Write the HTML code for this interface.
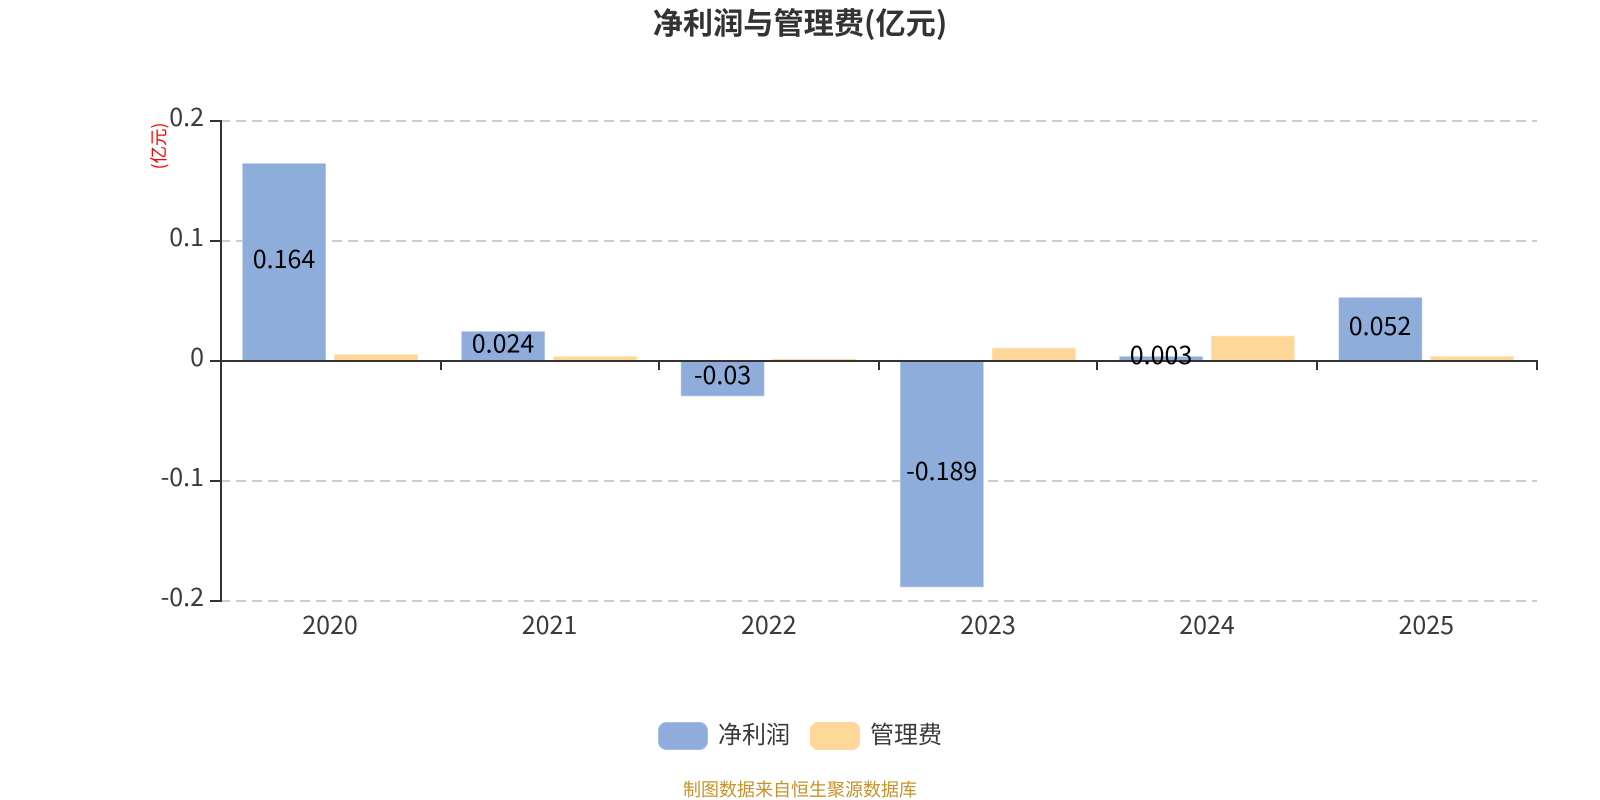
<!DOCTYPE html>
<html><head><meta charset="utf-8">
<style>
html,body{margin:0;padding:0;background:#fff;width:1600px;height:800px;overflow:hidden}
svg{display:block}
text{font-family:"Noto Sans CJK SC","Liberation Sans",sans-serif}
</style></head>
<body>
<svg width="1600" height="800" viewBox="0 0 1600 800" xmlns="http://www.w3.org/2000/svg">
<rect width="1600" height="800" fill="#fff"/>
<text x="800" y="34" text-anchor="middle" font-size="30.200" font-weight="700" fill="#333">净利润与管理费(亿元)</text>
<g stroke="#ccc" stroke-width="2" stroke-dasharray="10 6">
<line x1="220" y1="121" x2="1537" y2="121"/>
<line x1="220" y1="241" x2="1537" y2="241"/>
<line x1="220" y1="481" x2="1537" y2="481"/>
<line x1="220" y1="601" x2="1537" y2="601"/>
</g>
<g fill="#8eadda" stroke="#c4d5ec" stroke-width="0.600">
<rect x="242.500" y="163.500" width="83.200" height="197"/>
<rect x="461.500" y="331.500" width="83.200" height="29"/>
<rect x="681" y="361" width="83.200" height="35"/>
<rect x="900.300" y="361" width="83.200" height="226"/>
<rect x="1119.500" y="356.500" width="83.200" height="4"/>
<rect x="1338.800" y="297.500" width="83.200" height="63"/>
</g>
<g fill="#ffd899" stroke="#ffe9c6" stroke-width="0.600">
<rect x="334.500" y="354.500" width="83.200" height="6"/>
<rect x="553.500" y="356.500" width="83.200" height="4"/>
<rect x="772.700" y="359" width="83.200" height="1.500"/>
<rect x="992.300" y="348" width="83.200" height="12.500"/>
<rect x="1211.300" y="336" width="83.200" height="24.500"/>
<rect x="1430.500" y="356.500" width="83.200" height="4"/>
</g>
<g stroke="#333" stroke-width="2" fill="none">
<line x1="221" y1="120" x2="221" y2="602"/>
<line x1="210" y1="121" x2="221" y2="121"/>
<line x1="210" y1="241" x2="221" y2="241"/>
<line x1="210" y1="361" x2="221" y2="361"/>
<line x1="210" y1="481" x2="221" y2="481"/>
<line x1="210" y1="601" x2="221" y2="601"/>
<line x1="221" y1="361" x2="1538" y2="361"/>
<line x1="441" y1="361" x2="441" y2="370"/>
<line x1="659" y1="361" x2="659" y2="370"/>
<line x1="879" y1="361" x2="879" y2="370"/>
<line x1="1097" y1="361" x2="1097" y2="370"/>
<line x1="1317" y1="361" x2="1317" y2="370"/>
<line x1="1537" y1="361" x2="1537" y2="370"/>
</g>
<g font-size="25" fill="#3a3a3a" text-anchor="end">
<text x="204" y="126">0.2</text>
<text x="204" y="246">0.1</text>
<text x="204" y="366">0</text>
<text x="204" y="486">-0.1</text>
<text x="204" y="606">-0.2</text>
</g>
<g font-size="25" fill="#3a3a3a" text-anchor="middle">
<text x="330" y="634">2020</text>
<text x="549.500" y="634">2021</text>
<text x="768.700" y="634">2022</text>
<text x="988" y="634">2023</text>
<text x="1207" y="634">2024</text>
<text x="1426.300" y="634">2025</text>
</g>
<g font-size="25" fill="#000" text-anchor="middle">
<text x="284" y="268">0.164</text>
<text x="503" y="352.500">0.024</text>
<text x="722.500" y="384">-0.03</text>
<text x="941.700" y="480">-0.189</text>
<text x="1161" y="364">0.003</text>
<text x="1380" y="335">0.052</text>
</g>
<text transform="translate(165,146) rotate(-90)" text-anchor="middle" font-size="17.500" fill="#ff0000">(亿元)</text>
<rect x="658.500" y="722.500" width="49" height="27" rx="8" fill="#8eadda" stroke="#a4bde2" stroke-width="1"/>
<text x="718" y="743" font-size="24" fill="#3a3a3a">净利润</text>
<rect x="810" y="722" width="50" height="28" rx="8" fill="#ffd899"/>
<text x="870" y="743" font-size="24" fill="#3a3a3a">管理费</text>
<text x="800" y="796" text-anchor="middle" font-size="18" fill="#c8922a">制图数据来自恒生聚源数据库</text>
</svg>
</body></html>
